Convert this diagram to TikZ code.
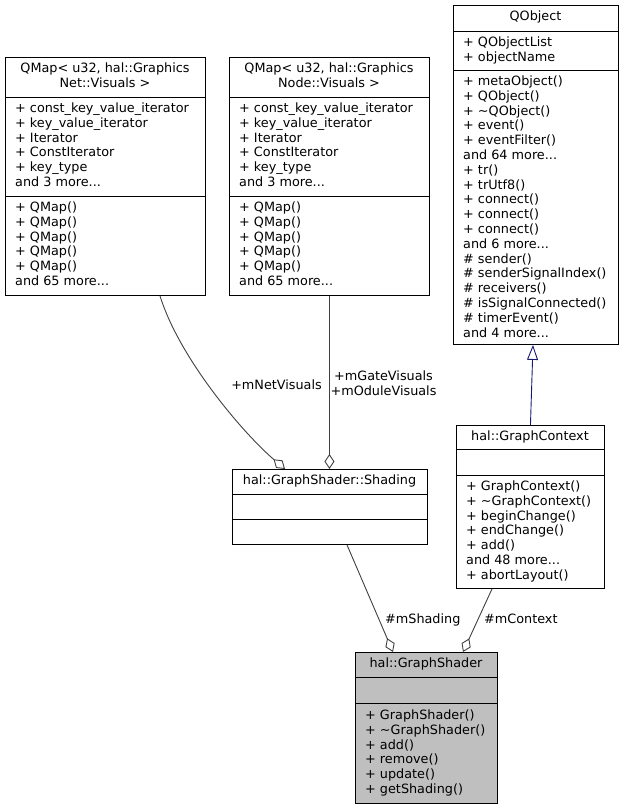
\documentclass[tikz,border=0pt]{standalone}
\usepackage{fontspec}
\setmainfont{DejaVu Sans}
\usetikzlibrary{arrows.meta,calc}
\definecolor{edgegray}{HTML}{404040}
\definecolor{navyblue}{HTML}{191970}
\definecolor{shadegray}{HTML}{BFBFBF}
\tikzset{
  umlbox/.style={draw=black, line width=0.9pt, fill=white, inner sep=0pt, anchor=north west},
  seprule/.style={draw=black, line width=0.9pt},
  txt/.style={inner sep=0pt, font=\fontsize{12.8}{14.8}\selectfont, align=left, anchor=north west},
  ttl/.style={inner sep=0pt, font=\fontsize{12.8}{14.8}\selectfont, align=center, anchor=north},
  lbl/.style={inner sep=0pt, font=\fontsize{12.8}{14.8}\selectfont},
  edgeline/.style={draw=edgegray, line width=0.9pt},
  agg/.style={edgeline, -{Diamond[open, length=15pt, width=10pt]}},
  inh/.style={draw=navyblue, line width=0.9pt, -{Triangle[open, length=15pt, width=11pt]}}
}
\begin{document}
\begin{tikzpicture}[x=1pt,y=-1pt]
\useasboundingbox (0,0) rectangle (625,808);

% ---------- QMap Net ----------
\node[umlbox, minimum width=200pt, minimum height=238pt] (qnet) at (5,57) {};
\draw[seprule] ([yshift=-40pt]qnet.north west) -- ([yshift=-40pt]qnet.north east);
\draw[seprule] ([yshift=-139pt]qnet.north west) -- ([yshift=-139pt]qnet.north east);
\node[ttl] (qnet-t) at (105,62) {\strut QMap< u32, hal::Graphics\\Net::Visuals >};
\node[txt] (qnet-a) at (15,102) {\strut + const\_key\_value\_iterator\\+ key\_value\_iterator\\+ Iterator\\+ ConstIterator\\+ key\_type\\and 3 more...};
\node[txt] (qnet-m) at (15,201) {\strut + QMap()\\+ QMap()\\+ QMap()\\+ QMap()\\+ QMap()\\and 65 more...};

% ---------- QMap Node ----------
\node[umlbox, minimum width=200pt, minimum height=238pt] (qnode) at (229,57) {};
\draw[seprule] ([yshift=-40pt]qnode.north west) -- ([yshift=-40pt]qnode.north east);
\draw[seprule] ([yshift=-139pt]qnode.north west) -- ([yshift=-139pt]qnode.north east);
\node[ttl] (qnode-t) at (329,62) {\strut QMap< u32, hal::Graphics\\Node::Visuals >};
\node[txt] (qnode-a) at (239,102) {\strut + const\_key\_value\_iterator\\+ key\_value\_iterator\\+ Iterator\\+ ConstIterator\\+ key\_type\\and 3 more...};
\node[txt] (qnode-m) at (239,201) {\strut + QMap()\\+ QMap()\\+ QMap()\\+ QMap()\\+ QMap()\\and 65 more...};

% ---------- QObject ----------
\node[umlbox, minimum width=165pt, minimum height=339pt] (qobj) at (453,5) {};
\draw[seprule] ([yshift=-26pt]qobj.north west) -- ([yshift=-26pt]qobj.north east);
\draw[seprule] ([yshift=-65pt]qobj.north west) -- ([yshift=-65pt]qobj.north east);
\node[ttl] (qobj-t) at (535.5,10) {\strut QObject};
\node[txt] (qobj-a) at (463,36) {\strut + QObjectList\\+ objectName};
\node[txt] (qobj-m) at (463,75) {\strut + metaObject()\\+ QObject()\\+ \textasciitilde QObject()\\+ event()\\+ eventFilter()\\and 64 more...\\+ tr()\\+ trUtf8()\\+ connect()\\+ connect()\\+ connect()\\and 6 more...\\\# sender()\\\# senderSignalIndex()\\\# receivers()\\\# isSignalConnected()\\\# timerEvent()\\and 4 more...};

% ---------- hal::GraphContext ----------
\node[umlbox, minimum width=148pt, minimum height=163pt] (gctx) at (456,425) {};
\draw[seprule] ([yshift=-24pt]gctx.north west) -- ([yshift=-24pt]gctx.north east);
\draw[seprule] ([yshift=-50pt]gctx.north west) -- ([yshift=-50pt]gctx.north east);
\node[ttl] (gctx-t) at (530,430) {\strut hal::GraphContext};
\node[txt] (gctx-m) at (466,480) {\strut + GraphContext()\\+ \textasciitilde GraphContext()\\+ beginChange()\\+ endChange()\\+ add()\\and 48 more...\\+ abortLayout()};

% ---------- hal::GraphShader::Shading ----------
\node[umlbox, minimum width=195pt, minimum height=75pt] (shading) at (232,469) {};
\draw[seprule] ([yshift=-25pt]shading.north west) -- ([yshift=-25pt]shading.north east);
\draw[seprule] ([yshift=-50pt]shading.north west) -- ([yshift=-50pt]shading.north east);
\node[ttl] (shading-t) at (329.5,474) {\strut hal::GraphShader::Shading};

% ---------- hal::GraphShader ----------
\node[umlbox, fill=shadegray, minimum width=142pt, minimum height=151pt] (shader) at (355,652) {};
\draw[seprule] ([yshift=-25pt]shader.north west) -- ([yshift=-25pt]shader.north east);
\draw[seprule] ([yshift=-51pt]shader.north west) -- ([yshift=-51pt]shader.north east);
\node[ttl] (shader-t) at (426,657) {\strut hal::GraphShader};
\node[txt] (shader-m) at (365,709) {\strut + GraphShader()\\+ \textasciitilde GraphShader()\\+ add()\\+ remove()\\+ update()\\+ getShading()};

% ---------- connectors ----------
\draw[agg] ([xshift=155pt]qnet.south west) .. controls (180,360) and (245,435) .. ([xshift=53pt]shading.north west);
\draw[agg] (qnode.south) -- (qnode.south |- shading.north);
\draw[inh] (gctx.north) -- ([xshift=80pt]qobj.south west);
\draw[agg] ([xshift=115pt]shading.south west) -- ([xshift=38pt]shader.north west);
\draw[agg] ([xshift=36pt]gctx.south west) -- ([xshift=108pt]shader.north west);

% ---------- labels ----------
\node[lbl, anchor=base east] (l-net) at (322,389) {+mNetVisuals};
\node[ttl] (l-gate) at (383.5,370) {\strut +mGateVisuals\\+mOduleVisuals};
\node[lbl, anchor=base west] (l-shading) at (385,623.5) {\#mShading};
\node[lbl, anchor=base west] (l-context) at (484,623.5) {\#mContext};
\end{tikzpicture}
\end{document}
